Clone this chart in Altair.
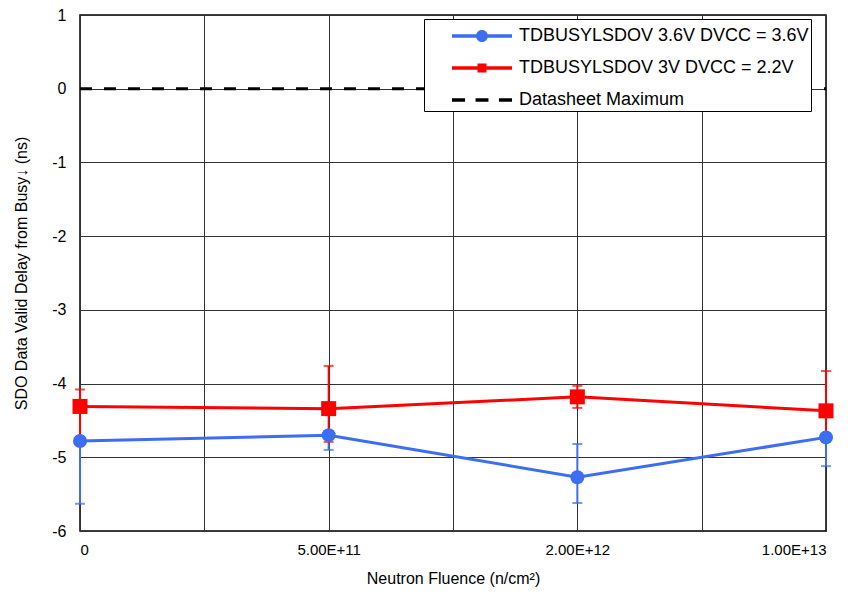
import altair as alt
import pandas as pd

# ---- data ----
fluence = ["0", "5.00E+11", "2.00E+12", "1.00E+13"]
series_names = ["TDBUSYLSDOV 3.6V DVCC = 3.6V", "TDBUSYLSDOV 3V DVCC = 2.2V", "Datasheet Maximum"]
series_colors = ["#3d6df2", "#ff0000", "#000000"]

blue_mean = [-4.78, -4.70, -5.27, -4.73]
blue_low = [-5.63, -4.90, -5.62, -5.12]
blue_high = [-4.73, -4.65, -4.82, -4.68]

red_mean = [-4.31, -4.34, -4.18, -4.37]
red_low = [-4.74, -4.79, -4.33, -4.70]
red_high = [-4.08, -3.76, -4.03, -3.83]

datasheet_max = [0, 0, 0, 0]

y_ticks = [-6, -5, -4, -3, -2, -1, 0, 1]
x_grid = [0, 0.5, 1, 1.5, 2, 2.5, 3]

# ---- tables ----
rows = []
for name, mean, lo, hi in [(series_names[0], blue_mean, blue_low, blue_high),
                           (series_names[1], red_mean, red_low, red_high)]:
    for i in range(len(fluence)):
        rows.append({"idx": i, "fluence": fluence[i], "series": name,
                     "value": mean[i], "low": lo[i], "high": hi[i]})
df = pd.DataFrame(rows)
df_red = df[df.series == series_names[1]]
df_blue = df[df.series == series_names[0]]
df_err = pd.concat([df_red, df_blue])  # red drawn first, blue on top

df_max = pd.DataFrame({"idx": list(range(len(fluence))), "series": series_names[2],
                       "value": datasheet_max})
df_leg = pd.DataFrame({"idx": [0, 0, 0], "series": series_names,
                       "value": [blue_mean[0], red_mean[0], datasheet_max[0]]})

FONT = "Liberation Sans"

labels_js = "[" + ",".join("'" + s + "'" for s in fluence) + "]"
x_axis = alt.Axis(values=x_grid, labelExpr=labels_js + "[datum.value] || ''",
                  grid=True, gridColor="#333333", gridWidth=1, ticks=False, domain=False,
                  labelFontSize=15, labelPadding=11, labelColor="black",
                  labelOverlap=False, titleFontSize=16, titleFontWeight="normal",
                  titlePadding=13, titleColor="black", labelFont=FONT, titleFont=FONT)
y_axis = alt.Axis(values=y_ticks, labelExpr="'' + datum.value", grid=True,
                  gridColor="#333333", gridWidth=1,
                  ticks=False, domain=False, labelFontSize=16, labelPadding=14,
                  labelColor="black", titleFontSize=16, titleFontWeight="normal",
                  titlePadding=22, titleColor="black", labelFont=FONT, titleFont=FONT)

x_title = "Neutron Fluence (n/cm²)"
y_title = "SDO Data Valid Delay from Busy↓ (ns)"
x_scale = alt.Scale(domain=[0, 3], nice=False, zero=False)
y_scale = alt.Scale(domain=[-6, 1], nice=False, zero=False)

color_scale = alt.Scale(domain=series_names, range=series_colors)

line_circle = ("M-2,-0.11H2V0.11H-2Z "
               "M0.4,0A0.4,0.4 0 1,1 -0.4,0A0.4,0.4 0 1,1 0.4,0Z")
line_square = "M-2,-0.11H2V0.11H-2Z M-0.3,-0.3H0.3V0.3H-0.3Z"
dashes = ("M-2,-0.12H-1.13V0.12H-2Z M-0.43,-0.12H0.43V0.12H-0.43Z "
          "M1.13,-0.12H2V0.12H1.13Z")
shape_scale = alt.Scale(domain=series_names, range=[line_circle, line_square, dashes])

nbsp = "\u00a0" * 6
legend = alt.Legend(title=None, orient="none", legendX=344, legendY=4, padding=2,
                    symbolSize=900, symbolOffset=41, labelOffset=22, labelFontSize=18,
                    labelFont=FONT, labelColor="black", labelLimit=500,
                    fillColor="white", strokeColor="black", symbolStrokeWidth=0,
                    symbolOpacity=1, symbolType=line_circle, rowPadding=8,
                    labelExpr="datum.label + '" + nbsp + "'")


def X():
    return alt.X("idx:Q", scale=x_scale, axis=x_axis, title=x_title)


def Y(field):
    return alt.Y(field + ":Q", scale=y_scale, axis=y_axis, title=y_title)


def C():
    return alt.Color("series:N", scale=color_scale, legend=legend)


maxline = alt.Chart(df_max).mark_line(strokeWidth=3, strokeDash=[12, 12]).encode(
    x=X(), y=Y("value"), color=C())

err_rule = alt.Chart(df_err).mark_rule(strokeWidth=2).encode(
    x=X(), y=Y("low"), y2="high", color=C())
cap_low = alt.Chart(df_err).mark_tick(orient="horizontal", size=10, thickness=2).encode(
    x=X(), y=Y("low"), color=C())
cap_high = alt.Chart(df_err).mark_tick(orient="horizontal", size=10, thickness=2).encode(
    x=X(), y=Y("high"), color=C())

lines = alt.Chart(df).mark_line(strokeWidth=3).encode(
    x=X(), y=Y("value"), color=C(), detail="series:N", order="idx:Q")

squares = alt.Chart(df_red).mark_square(size=225, opacity=1).encode(
    x=X(), y=Y("value"), color=C())
circles = alt.Chart(df_blue).mark_circle(size=196, opacity=1).encode(
    x=X(), y=Y("value"), color=C())

legend_layer = alt.Chart(df_leg).mark_point(filled=True, opacity=0, size=900).encode(
    x=X(), y=Y("value"),
    color=C(),
    shape=alt.Shape("series:N", scale=shape_scale, legend=legend))

chart = alt.layer(maxline, err_rule, cap_low, cap_high, lines, squares, circles,
                  legend_layer).properties(
    width=746, height=516,
    padding={"left": 72, "top": 7, "right": 26, "bottom": 56},
    autosize=alt.AutoSizeParams(type="none"),
    background="white",
).configure_view(stroke="black", strokeWidth=1.5)

chart.save("out.html", embed_options={"renderer": "svg", "actions": False})
